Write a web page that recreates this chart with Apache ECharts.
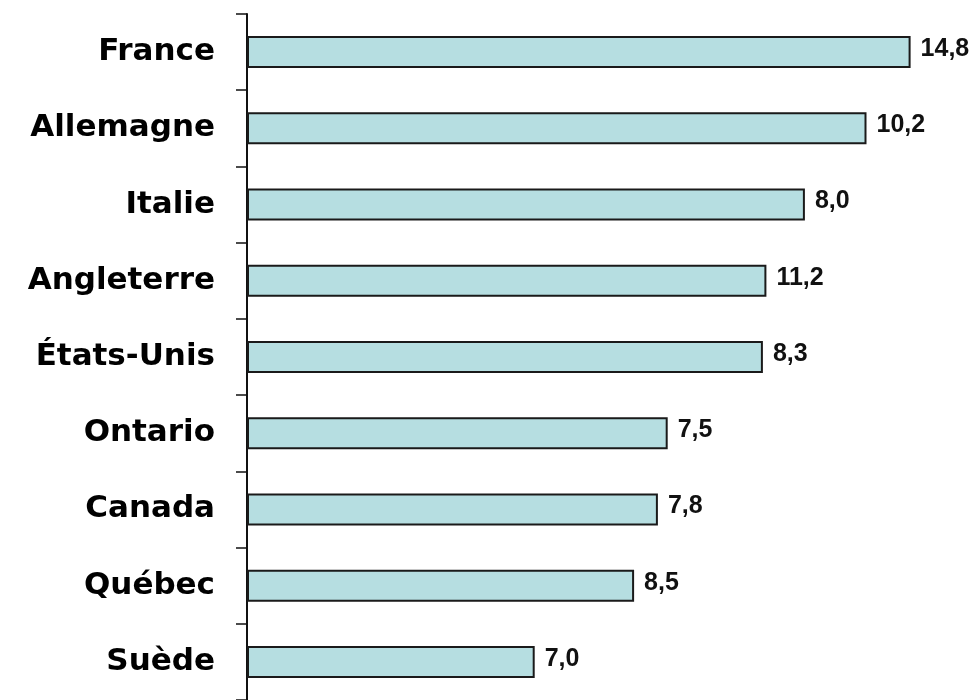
<!DOCTYPE html>
<html>
<head>
<meta charset="utf-8">
<script src="https://cdn.jsdelivr.net/npm/echarts@6/dist/echarts.min.js"></script>
<style>
html,body{margin:0;padding:0;background:#fff;}
#chart{width:980px;height:700px;}
</style>
</head>
<body>
<div id="chart"></div>
<script>
// Categories (top to bottom)
const categories = ["France", "Allemagne", "Italie", "Angleterre", "États-Unis", "Ontario", "Canada", "Québec", "Suède"];
// Bar lengths (relative units)
const barValues = [9.48, 8.85, 7.97, 7.42, 7.37, 6.01, 5.87, 5.53, 4.11];
// Value labels printed next to each bar
const valueLabels = ["14,8", "10,2", "8,0", "11,2", "8,3", "7,5", "7,8", "8,5", "7,0"];

const chart = echarts.init(document.getElementById('chart'), null, {renderer: 'canvas'});
chart.setOption({
  animation: false,
  backgroundColor: '#ffffff',
  grid: {left: 247, right: 33, top: 14, bottom: 0, containLabel: false},
  xAxis: {
    type: 'value', min: 0, max: 10, show: false
  },
  yAxis: {
    type: 'category',
    data: categories,
    inverse: true,
    axisLine: {show: true, lineStyle: {color: '#111', width: 2}},
    axisTick: {show: true, inside: false, length: 11, lineStyle: {color: '#111', width: 1.5}},
    axisLabel: {
      margin: 32,
      color: '#000',
      fontFamily: 'DejaVu Sans',
      fontWeight: 'bold',
      fontSize: 31
    },
    splitLine: {show: false}
  },
  series: [{
    type: 'bar',
    data: barValues,
    barWidth: 32,
    itemStyle: {color: '#b6dee1', borderColor: '#1a1a1a', borderWidth: 2},
    label: {
      show: true,
      position: 'right',
      distance: 10,
      offset: [0, -3],
      color: '#111',
      fontFamily: 'Liberation Sans',
      fontWeight: 'bold',
      fontSize: 25,
      formatter: p => valueLabels[p.dataIndex]
    }
  }]
});
</script>
</body>
</html>
